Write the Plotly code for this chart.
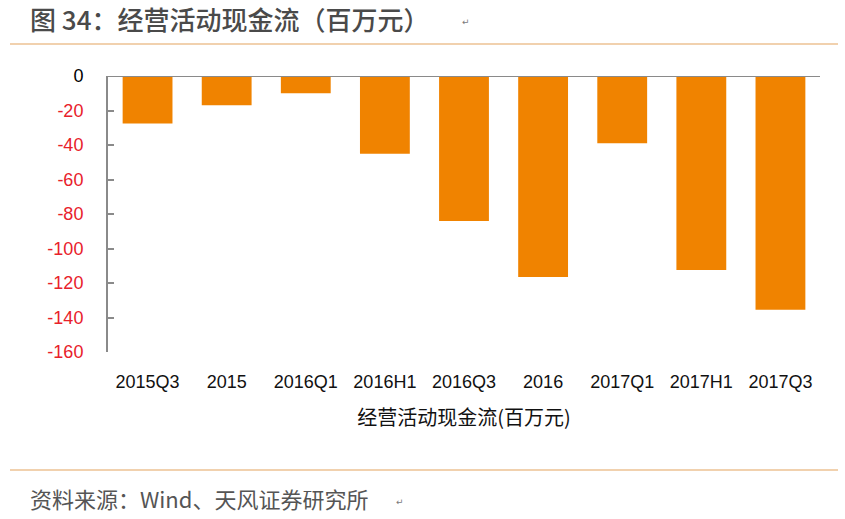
import plotly.graph_objects as go

categories = ["2015Q3", "2015", "2016Q1", "2016H1", "2016Q3", "2016", "2017Q1", "2017H1", "2017Q3"]
values = [-27.5, -17, -10, -45, -84, -116.5, -39, -112.5, -135.5]
tick_vals = [0, -20, -40, -60, -80, -100, -120, -140, -160]

tick_text = []
for v in tick_vals:
    if v == 0:
        tick_text.append("<span style='color:#000000'>0</span>")
    else:
        tick_text.append(f"<span style='color:#E8212B'>{v}</span>")

W, H = 845, 519
L, R, T, B = 108, 820, 76, 352

def px(x):
    return (x - L) / (R - L)

def py(y):
    return (B - y) / (B - T)

fig = go.Figure(go.Bar(x=categories, y=values, marker=dict(color="#F08300", line=dict(width=0)), width=0.63))

fig.update_layout(
    width=W, height=H,
    margin=dict(l=L, r=W - R, t=T, b=H - B, pad=0),
    paper_bgcolor="white", plot_bgcolor="white",
    showlegend=False,
    font=dict(family="Liberation Sans", color="#000000"),
    xaxis=dict(
        showline=False, showgrid=False, zeroline=False, ticks="",
        tickfont=dict(family="Liberation Sans Narrow, Liberation Sans", size=18, color="#111111"),
        ticklabelstandoff=17,
        title=dict(text="经营活动现金流(百万元)", font=dict(family="Noto Sans CJK SC", size=20, color="#111111"), standoff=19),
    ),
    yaxis=dict(
        range=[-160, 0], tickmode="array", tickvals=tick_vals, ticktext=tick_text,
        showline=True, linecolor="#8A8A8A", linewidth=2,
        ticks="inside", ticklen=6, tickwidth=2, tickcolor="#8A8A8A",
        showgrid=False, zeroline=False,
        tickfont=dict(family="Liberation Sans", size=18),
        ticklabelstandoff=19,
    ),
    shapes=[
        dict(type="line", xref="paper", yref="y", x0=0, x1=1, y0=0, y1=0,
             line=dict(color="#8A8A8A", width=2)),
        dict(type="line", xref="paper", yref="paper", x0=px(10), x1=px(838), y0=py(44), y1=py(44),
             line=dict(color="#E3A35E", width=1.2)),
        dict(type="line", xref="paper", yref="paper", x0=px(10), x1=px(838), y0=py(470), y1=py(470),
             line=dict(color="#E3A35E", width=1.2)),
    ],
    annotations=[
        dict(text="图 34：经营活动现金流（百万元）", xref="paper", yref="paper",
             x=px(28), y=py(19), xanchor="left", yanchor="middle", showarrow=False,
             font=dict(family="Noto Sans CJK SC", size=26, color="#4A4A4A", weight=500)),
        dict(text="↵", xref="paper", yref="paper", x=px(460), y=py(22), xanchor="left", yanchor="middle",
             showarrow=False, font=dict(family="DejaVu Sans", size=9, color="#7A7A7A")),
        dict(text="资料来源：Wind、天风证券研究所", xref="paper", yref="paper",
             x=px(28), y=py(498), xanchor="left", yanchor="middle", showarrow=False,
             font=dict(family="Noto Sans CJK SC", size=22, color="#555555")),
        dict(text="↵", xref="paper", yref="paper", x=px(394), y=py(502), xanchor="left", yanchor="middle",
             showarrow=False, font=dict(family="DejaVu Sans", size=9, color="#7A7A7A")),
    ],
)

fig.write_html("out.html", config={"displayModeBar": False},
               post_script="document.body.style.margin='0px';")
